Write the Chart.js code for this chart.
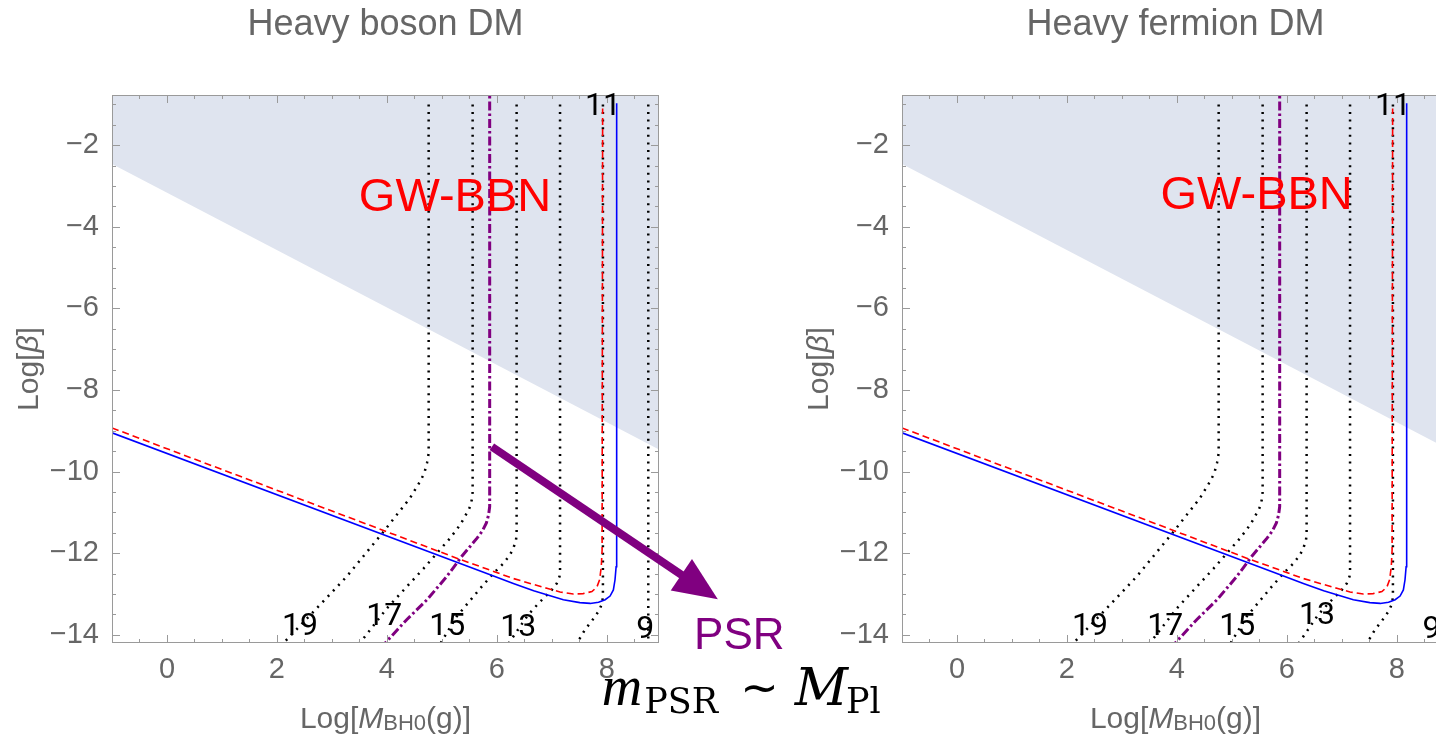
<!DOCTYPE html>
<html>
<head>
<meta charset="utf-8">
<title>Heavy DM bounds</title>
<script src="https://cdn.jsdelivr.net/npm/chart.js@4.4.1/dist/chart.umd.min.js"></script>
<style>
  html, body { margin: 0; padding: 0; background: #fff; overflow: hidden; }
  body { width: 1436px; height: 738px; position: relative; }
  canvas { position: absolute; top: 0; }
  #boson { left: 0; }
  #fermion { left: 790px; }
</style>
</head>
<body>
<canvas id="boson" width="930" height="738"></canvas>
<canvas id="fermion" width="700" height="738"></canvas>
<script>
// axes
const xRange = [-1, 8.95];
const yRange = [-14.2, -0.77];
const xTicks = [0, 2, 4, 6, 8];
const yTicks = [-2, -4, -6, -8, -10, -12, -14];

// GW-BBN excluded region, shaded above this edge
const bbnEdge = [[-1, -2.46], [9, -9.49]];

// solid blue and dashed red bounds
const blueBound = [[-1, -9.05], [5.94, -12.56], [6.3, -12.74], [6.67, -12.92], [6.91, -13.02], [7.21, -13.14],
  [7.51, -13.21], [7.7, -13.23], [7.85, -13.2], [7.97, -13.14], [8.06, -13.05], [8.12, -12.9], [8.15, -12.65],
  [8.17, -12.33], [8.18, -11.35], [8.18, -0.97]];
const redBound = [[-1, -8.93], [5.27, -12.12], [6.3, -12.62], [6.91, -12.86], [7.15, -12.95], [7.39, -13.0],
  [7.57, -12.99], [7.73, -12.94], [7.82, -12.83], [7.87, -12.65], [7.9, -12.33], [7.915, -11.92], [7.925, -1.1]];

// purple dash-dot: m_PSR ~ M_Pl
const psrBound = [[5.87, -0.5], [5.87, -10.86], [5.85, -11.06], [5.81, -11.26], [5.73, -11.47], [5.64, -11.63],
  [5.51, -11.84], [5.36, -12.08], [5.09, -12.57], [4.73, -13.14], [4.36, -13.63], [3.9, -14.3]];

// dotted contours
const contourValues = ['19', '17', '15', '13', '11', '9'];
const contour19 = [[4.76, -1.0], [4.76, -9.55], [4.73, -9.79], [4.68, -10.04], [4.6, -10.25], [4.42, -10.65],
  [3.94, -11.47], [3.27, -12.57], [2.64, -13.47], [2.12, -14.2]];
const contour17 = [[5.56, -1.0], [5.56, -10.5], [5.545, -10.69], [5.5, -10.9], [5.42, -11.1], [5.33, -11.31],
  [5.15, -11.63], [4.67, -12.37], [4.0, -13.35], [3.55, -14.13], [3.5, -14.2]];
const contour15 = [[6.36, -1.0], [6.36, -11.5], [6.35, -11.67], [6.3, -11.88], [6.24, -12.04], [6.12, -12.25],
  [5.94, -12.49], [5.7, -12.86], [5.27, -13.55], [4.98, -14.2]];
const contour13 = [[7.15, -1.0], [7.15, -12.4], [7.14, -12.57], [7.09, -12.74], [7.0, -12.9], [6.88, -13.06],
  [6.73, -13.27], [6.57, -13.51], [6.3, -14.04], [6.22, -14.2]];
const contour11 = [[7.93, -1.0], [7.93, -13.06], [7.915, -13.23], [7.865, -13.39], [7.79, -13.55], [7.6, -13.88],
  [7.46, -14.2]];
const contour9 = [[8.755, -1.0], [8.755, -14.2]];
const contours = [contour19, contour17, contour15, contour13, contour11, contour9];

// where the contour numbers sit in each panel
const bosonLabelAt = [[2.42, -13.82], [3.95, -13.57], [5.1, -13.8], [6.39, -13.84], [7.93, -1.06], [8.7, -13.88]];
const fermionLabelAt = [[2.42, -13.8], [3.79, -13.8], [5.1, -13.8], [6.55, -13.55], [7.93, -1.06], [8.63, -13.88]];

// PSR arrow and its notes
const psrArrow = [[5.91, -9.39], [10.02, -13.13]];
const psrTextAt = [10.41, -14.06];
const massTextAt = [7.91, -15.72];

const SANS = '"Liberation Sans", Arial, Helvetica, sans-serif';
const LABEL_SANS = 'Roboto, "Noto Sans", sans-serif';
const SERIF = '"Liberation Serif", "Times New Roman", serif';
const WIDE_SERIF = '"DejaVu Serif", serif';
const GREY = '#666';
const PURPLE = 'rgb(128,0,128)';

Chart.defaults.font.family = SANS;

function pts(arr) {
    return arr.map(([x, y]) => ({ x, y }));
}

function curve(arr, color, width, dash) {
    return {
        data: pts(arr),
        borderColor: color,
        borderWidth: width,
        borderDash: dash || [],
        borderCapStyle: 'butt',
        pointRadius: 0,
        fill: false,
        tension: 0,
        clip: 0,
    };
}

function minus(v) {
    return v < 0 ? '\u2212' + Math.abs(v) : String(v);
}

// draws a run of text pieces with their own fonts, left to right
function drawRun(ctx, parts, x, y) {
    let cx = x;
    parts.forEach(p => {
        ctx.font = p.font;
        cx += p.gap || 0;
        ctx.fillText(p.text, cx, y + (p.dy || 0));
        cx += ctx.measureText(p.text).width;
    });
    return cx;
}

function runWidth(ctx, parts) {
    let w = 0;
    parts.forEach(p => {
        ctx.font = p.font;
        w += (p.gap || 0) + ctx.measureText(p.text).width;
    });
    return w;
}

const frameTicks = {
    id: 'frameTicks',
    afterDatasetsDraw(chart) {
        const { ctx, chartArea: a, scales: { x, y } } = chart;
        const isMajor = (list, v) => list.some(t => Math.abs(t - v) < 1e-6);
        ctx.save();
        ctx.strokeStyle = '#9a9a9a';
        ctx.lineWidth = 1;
        ctx.strokeRect(a.left + 0.5, a.top + 0.5, a.right - a.left - 1, a.bottom - a.top - 1);
        ctx.beginPath();
        for (let v = Math.ceil(x.min * 2) / 2; v <= x.max; v += 0.5) {
            const px = Math.round(x.getPixelForValue(v)) + 0.5;
            const len = isMajor(xTicks, v) ? 8 : 4;
            ctx.moveTo(px, a.bottom); ctx.lineTo(px, a.bottom - len);
            ctx.moveTo(px, a.top); ctx.lineTo(px, a.top + len);
        }
        for (let v = Math.ceil(y.min * 2) / 2; v <= y.max; v += 0.5) {
            const py = Math.round(y.getPixelForValue(v)) + 0.5;
            const len = isMajor(yTicks, v) ? 8 : 4;
            ctx.moveTo(a.left, py); ctx.lineTo(a.left + len, py);
            ctx.moveTo(a.right, py); ctx.lineTo(a.right - len, py);
        }
        ctx.stroke();
        ctx.restore();
    }
};

function makeNotes(panel) {
    return {
        id: 'notes',
        afterDraw(chart) {
            const { ctx, chartArea: a, scales: { x, y } } = chart;
            const X = v => x.getPixelForValue(v);
            const Y = v => y.getPixelForValue(v);
            ctx.save();

            // contour numbers
            ctx.fillStyle = '#000';
            ctx.font = '32px ' + LABEL_SANS;
            ctx.textAlign = 'center';
            ctx.textBaseline = 'middle';
            panel.labelAt.forEach((p, i) => ctx.fillText(contourValues[i], X(p[0]), Y(p[1])));

            ctx.fillStyle = '#ff0000';
            ctx.font = '47px ' + SANS;
            ctx.fillText('GW-BBN', X(panel.bbnAt[0]), Y(panel.bbnAt[1]));

            // axis titles
            ctx.fillStyle = GREY;
            ctx.textAlign = 'left';
            ctx.textBaseline = 'alphabetic';
            const xTitle = [
                { text: 'Log[', font: '30px ' + SANS },
                { text: 'M', font: 'italic 30px ' + SANS },
                { text: 'BH0', font: '22px ' + SANS, dy: 2 },
                { text: '(g)]', font: '30px ' + SANS },
            ];
            const cx = (a.left + a.right) / 2;
            drawRun(ctx, xTitle, cx - runWidth(ctx, xTitle) / 2, a.bottom + 85);

            const yTitle = [
                { text: 'Log[', font: '30px ' + SANS },
                { text: '\u03b2', font: 'italic 30px ' + SANS },
                { text: ']', font: '30px ' + SANS },
            ];
            ctx.save();
            ctx.translate(38, (a.top + a.bottom) / 2);
            ctx.rotate(-Math.PI / 2);
            drawRun(ctx, yTitle, -runWidth(ctx, yTitle) / 2, 0);
            ctx.restore();

            if (panel.arrow) {
                const x0 = X(psrArrow[0][0]), y0 = Y(psrArrow[0][1]);
                const x1 = X(psrArrow[1][0]), y1 = Y(psrArrow[1][1]);
                const len = Math.hypot(x1 - x0, y1 - y0);
                const ux = (x1 - x0) / len, uy = (y1 - y0) / len;
                const head = 44, half = 19;
                const bx = x1 - ux * head, by = y1 - uy * head;
                ctx.strokeStyle = PURPLE;
                ctx.fillStyle = PURPLE;
                ctx.lineWidth = 8;
                ctx.beginPath();
                ctx.moveTo(x0, y0);
                ctx.lineTo(bx + ux * 2, by + uy * 2);
                ctx.stroke();
                ctx.beginPath();
                ctx.moveTo(x1, y1);
                ctx.lineTo(bx - uy * half, by + ux * half);
                ctx.lineTo(bx + uy * half, by - ux * half);
                ctx.closePath();
                ctx.fill();

                ctx.font = '44px ' + SANS;
                ctx.textAlign = 'center';
                ctx.textBaseline = 'middle';
                ctx.fillText('PSR', X(psrTextAt[0]), Y(psrTextAt[1]));

                // m_PSR ~ M_Pl
                ctx.fillStyle = '#000';
                ctx.textAlign = 'left';
                ctx.textBaseline = 'alphabetic';
                const mass = [
                    { text: 'm', font: 'italic 56px ' + SERIF },
                    { text: 'PSR', font: '35px ' + WIDE_SERIF, dy: 8, gap: 2 },
                    { text: '\u223c', font: '46px "DejaVu Sans", sans-serif', dy: -2, gap: 22 },
                    { text: 'M', font: 'italic 52px ' + WIDE_SERIF, gap: 16 },
                    { text: 'Pl', font: '35px ' + WIDE_SERIF, dy: 8, gap: -2 },
                ];
                drawRun(ctx, mass, X(massTextAt[0]), Y(massTextAt[1]));
            }
            ctx.restore();
        }
    };
}

function makeChart(canvasId, panel, padRight) {
    const datasets = [
        curve(blueBound, '#0000ff', 1.6),
        curve(redBound, '#ff0000', 1.6, [7, 4]),
        curve(psrBound, PURPLE, 3, [9, 3, 2.5, 3]),
    ];
    contours.forEach(c => datasets.push(curve(c, '#000', 2.5, [2, 5.6])));
    datasets.push({
        data: pts(bbnEdge),
        borderWidth: 0,
        borderColor: 'rgba(0,0,0,0)',
        backgroundColor: '#dfe4ef',
        pointRadius: 0,
        fill: 'end',
        order: 10,
        clip: 0,
    });

    return new Chart(document.getElementById(canvasId), {
        type: 'line',
        data: { datasets },
        options: {
            responsive: false,
            animation: false,
            devicePixelRatio: 1,
            events: [],
            layout: { padding: { left: 0, right: padRight, top: 0, bottom: 0 } },
            plugins: {
                legend: { display: false },
                tooltip: { enabled: false },
                title: {
                    display: true,
                    text: panel.title,
                    fullSize: false,
                    color: GREY,
                    font: { size: 36, weight: 'normal' },
                    padding: { top: 3, bottom: 48.8 },
                },
            },
            scales: {
                x: {
                    type: 'linear',
                    min: xRange[0],
                    max: xRange[1],
                    grid: { display: false },
                    border: { display: false },
                    afterBuildTicks: s => { s.ticks = xTicks.map(v => ({ value: v })); },
                    afterFit: s => { s.height = 95; },
                    ticks: {
                        color: GREY,
                        font: { size: 29 },
                        padding: 2,
                        autoSkip: false,
                        maxRotation: 0,
                        callback: v => minus(v),
                    },
                },
                y: {
                    type: 'linear',
                    min: yRange[0],
                    max: yRange[1],
                    grid: { display: false },
                    border: { display: false },
                    afterBuildTicks: s => { s.ticks = yTicks.map(v => ({ value: v })); },
                    afterFit: s => { s.width = 112; },
                    ticks: {
                        color: GREY,
                        font: { size: 29 },
                        padding: 5,
                        autoSkip: false,
                        callback: v => minus(v),
                    },
                },
            },
        },
        plugins: [frameTicks, makeNotes(panel)],
    });
}

document.addEventListener("DOMContentLoaded", () => {
    makeChart('boson', { title: 'Heavy boson DM', labelAt: bosonLabelAt, bbnAt: [5.24, -3.3], arrow: true }, 271);
    makeChart('fermion', { title: 'Heavy fermion DM', labelAt: fermionLabelAt, bbnAt: [5.45, -3.24], arrow: false }, 41);
});
</script>
</body>
</html>
